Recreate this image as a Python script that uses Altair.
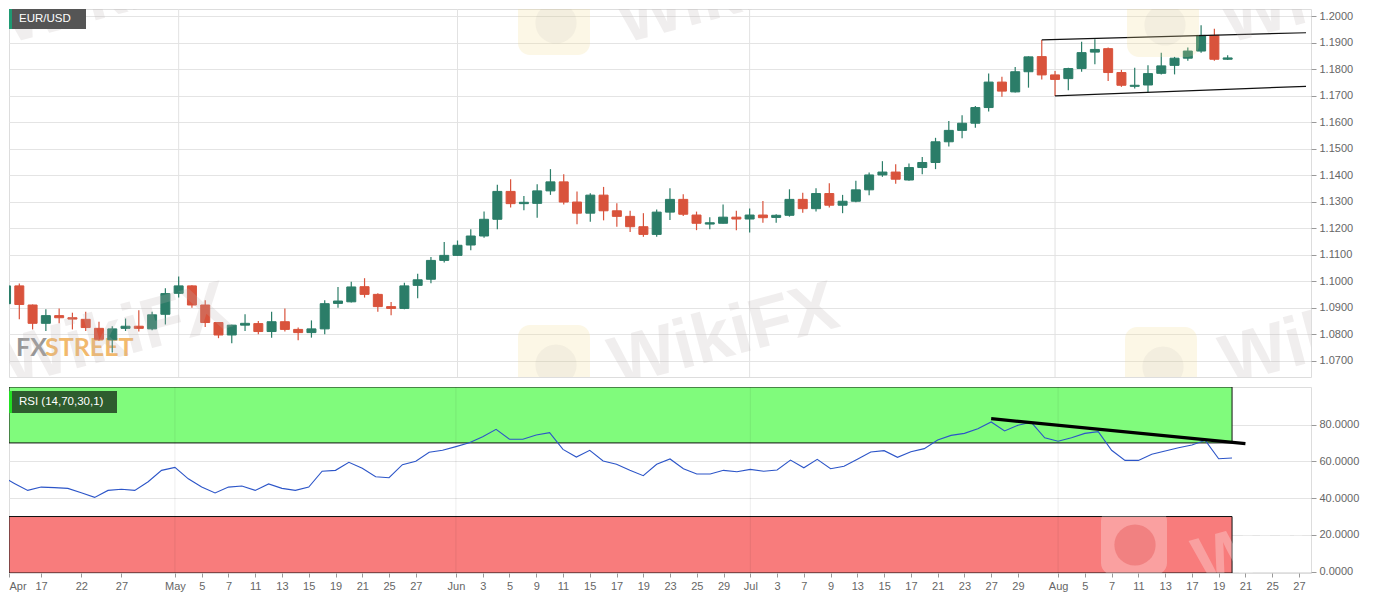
import json
import pandas as pd
import altair as alt

# trading days on the chart (Apr 14 sits just left of the visible window)
dates = pd.bdate_range("2020-04-14", "2020-08-20")
day_idx = list(range(-3, 90))

opens = [1.0916, 1.0983, 1.0911, 1.0842, 1.0871, 1.0863, 1.0857, 1.0823, 1.0780, 1.0823,
         1.0831, 1.0821, 1.0876, 1.0955, 1.0983, 1.0911, 1.0845, 1.0798, 1.0835, 1.0841,
         1.0811, 1.0848, 1.0819, 1.0807, 1.0821, 1.0917, 1.0923, 1.0980, 1.0951, 1.0905,
         1.0898, 1.0985, 1.1008, 1.1079, 1.1098, 1.1137, 1.1171, 1.1234, 1.1339, 1.1293,
         1.1294, 1.1341, 1.1375, 1.1299, 1.1257, 1.1325, 1.1266, 1.1245, 1.1206, 1.1177,
         1.1261, 1.1309, 1.1250, 1.1216, 1.1219, 1.1242, 1.1235, 1.1250, 1.1241, 1.1249,
         1.1309, 1.1274, 1.1331, 1.1287, 1.1302, 1.1345, 1.1401, 1.1412, 1.1382, 1.1429,
         1.1448, 1.1526, 1.1569, 1.1596, 1.1655, 1.1751, 1.1714, 1.1790, 1.1847, 1.1778,
         1.1764, 1.1802, 1.1864, 1.1877, 1.1787, 1.1735, 1.1740, 1.1784, 1.1814, 1.1841,
         1.1868, 1.1927, 1.1837]
highs = [1.0989, 1.0992, 1.0913, 1.0895, 1.0898, 1.0882, 1.0886, 1.0848, 1.0831, 1.0860,
         1.0891, 1.0886, 1.0974, 1.1018, 1.0985, 1.0929, 1.0847, 1.0837, 1.0876, 1.0851,
         1.0886, 1.0898, 1.0826, 1.0853, 1.0929, 1.0979, 1.0999, 1.1012, 1.0955, 1.0922,
         1.0995, 1.1029, 1.1092, 1.1148, 1.1154, 1.1196, 1.1263, 1.1364, 1.1385, 1.1322,
         1.1366, 1.1423, 1.1404, 1.1339, 1.1332, 1.1356, 1.1294, 1.1266, 1.1257, 1.1271,
         1.1351, 1.1328, 1.1263, 1.1242, 1.1290, 1.1266, 1.1275, 1.1303, 1.1253, 1.1347,
         1.1334, 1.1351, 1.1370, 1.1326, 1.1379, 1.1410, 1.1453, 1.1441, 1.1444, 1.1469,
         1.1541, 1.1604, 1.1626, 1.1661, 1.1783, 1.1771, 1.1808, 1.1848, 1.1910, 1.1793,
         1.1805, 1.1903, 1.1912, 1.1881, 1.1797, 1.1805, 1.1814, 1.1862, 1.1846, 1.1881,
         1.1965, 1.1952, 1.1852]
lows = [1.0911, 1.0857, 1.0819, 1.0813, 1.0842, 1.0819, 1.0813, 1.0776, 1.0732, 1.0813,
        1.0811, 1.0816, 1.0838, 1.0939, 1.0901, 1.0828, 1.0786, 1.0767, 1.0813, 1.0801,
        1.0788, 1.0811, 1.0778, 1.0788, 1.0801, 1.0901, 1.0920, 1.0939, 1.0886, 1.0872,
        1.0895, 1.0936, 1.0993, 1.1071, 1.1096, 1.1117, 1.1164, 1.1196, 1.1278, 1.1268,
        1.1240, 1.1326, 1.1290, 1.1215, 1.1225, 1.1230, 1.1206, 1.1186, 1.1168, 1.1168,
        1.1231, 1.1246, 1.1193, 1.1196, 1.1218, 1.1193, 1.1184, 1.1221, 1.1221, 1.1244,
        1.1259, 1.1263, 1.1278, 1.1257, 1.1298, 1.1325, 1.1394, 1.1368, 1.1379, 1.1404,
        1.1423, 1.1508, 1.1539, 1.1579, 1.1640, 1.1696, 1.1712, 1.1730, 1.1761, 1.1699,
        1.1720, 1.1790, 1.1818, 1.1755, 1.1733, 1.1727, 1.1714, 1.1780, 1.1780, 1.1831,
        1.1862, 1.1831, 1.1834]
closes = [1.0983, 1.0913, 1.0842, 1.0871, 1.0863, 1.0858, 1.0826, 1.0782, 1.0821, 1.0831,
          1.0823, 1.0874, 1.0954, 1.0983, 1.0911, 1.0845, 1.0798, 1.0835, 1.0842, 1.0811,
          1.0848, 1.0819, 1.0807, 1.0821, 1.0916, 1.0926, 1.0979, 1.0951, 1.0905, 1.0898,
          1.0983, 1.1006, 1.1079, 1.1098, 1.1136, 1.1171, 1.1234, 1.1339, 1.1293, 1.1298,
          1.1341, 1.1375, 1.1299, 1.1257, 1.1325, 1.1266, 1.1245, 1.1206, 1.1177, 1.1261,
          1.1309, 1.1253, 1.1219, 1.1221, 1.1242, 1.1235, 1.1250, 1.1240, 1.1249, 1.1309,
          1.1274, 1.1331, 1.1287, 1.1302, 1.1345, 1.1401, 1.1412, 1.1385, 1.1429, 1.1448,
          1.1526, 1.1569, 1.1596, 1.1655, 1.1751, 1.1717, 1.1790, 1.1846, 1.1778, 1.1761,
          1.1802, 1.1862, 1.1874, 1.1787, 1.1739, 1.1739, 1.1783, 1.1812, 1.1841, 1.1868,
          1.1927, 1.1837, 1.1842]
rsi = [52.0, 48.0, 44.2, 46.0, 45.7, 45.3, 42.9, 40.4, 44.2, 44.8,
       44.2, 48.9, 55.1, 56.7, 50.5, 46.0, 42.8, 46.0, 46.6, 44.2,
       47.7, 45.3, 44.2, 46.0, 54.6, 55.1, 59.5, 56.2, 51.6, 51.1,
       58.2, 60.0, 64.9, 66.0, 68.0, 70.1, 73.4, 77.4, 72.0, 72.0,
       74.3, 75.6, 66.5, 62.3, 66.0, 60.2, 58.4, 55.1, 52.2, 58.4,
       61.3, 56.0, 53.1, 53.1, 55.1, 54.3, 55.6, 54.6, 55.3, 60.7,
       56.5, 61.1, 56.0, 57.3, 61.1, 65.1, 65.8, 62.2, 65.2, 66.9,
       71.6, 74.1, 75.2, 77.7, 81.4, 76.5, 79.6, 81.2, 72.8, 70.9,
       72.8, 75.2, 76.1, 66.0, 60.5, 60.5, 63.8, 65.6, 67.4, 68.9,
       71.4, 61.4, 61.8]

tick_pos = [-2.4, 0, 3, 6, 10, 12, 14, 16, 18, 20, 22, 24, 26, 28,
            31, 33, 35, 37, 39, 41, 43, 45, 47, 49, 51,
            53, 55, 57, 59, 61, 63, 65, 67, 69, 71, 73,
            76, 78, 80, 82, 84, 86, 88, 90, 92, 94]
tick_text = ['Apr', '17', '22', '27', 'May', '5', '7', '11', '13', '15', '19', '21', '25', '27',
             'Jun', '3', '5', '9', '11', '15', '17', '19', '23', '25', '29',
             'Jul', '3', '7', '9', '13', '15', '17', '21', '23', '27', '29',
             'Aug', '5', '7', '11', '13', '17', '19', '21', '25', '27']
month_starts = [10, 31, 53, 76]
price_ticks = [1.07, 1.08, 1.09, 1.10, 1.11, 1.12, 1.13, 1.14, 1.15, 1.16, 1.17, 1.18, 1.19, 1.20]
rsi_ticks = [0, 20, 40, 60, 80]

# channel drawn on the price panel
channel_name = ['upper', 'upper', 'lower', 'lower']
channel_x = [75, 94.9, 76, 94.9]
channel_y = [1.1910, 1.1937, 1.1699, 1.1735]

# descending RSI trend line
trend_x = [71, 90]
trend_y = [83.2, 69.6]

# RSI zones
zone_name = ['over', 'under']
zone_x1 = [-2.4, -2.4]
zone_x2 = [89, 89]
zone_lo = [70, -0.7]
zone_hi = [100.4, 30]

UP, DOWN = '#2b7d68', '#d9533c'
FONT = 'Liberation Sans'
W, H_PRICE, H_RSI = 1302, 368, 186
X_DOM = [-2.4, 94.9]

df = pd.DataFrame({
    'i': day_idx,
    'date': dates.strftime('%Y-%m-%d'),
    'Open': opens, 'High': highs, 'Low': lows, 'Close': closes,
    'RSI': rsi,
})
df['dir'] = ['up' if c >= o else 'down' for o, c in zip(opens, closes)]

months = pd.DataFrame({'i': month_starts})
channel = pd.DataFrame({'line': channel_name, 'x': channel_x, 'y': channel_y})
trend = pd.DataFrame({'x': trend_x, 'v': trend_y})
zones = pd.DataFrame({'zone': zone_name, 'x1': zone_x1, 'x2': zone_x2, 'lo': zone_lo, 'hi': zone_hi})
one = pd.DataFrame({'k': [0]})

xscale = alt.Scale(domain=X_DOM, nice=False, zero=False)
pscale = alt.Scale(domain=[1.06397, 1.20264], nice=False, zero=False)
rscale = alt.Scale(domain=[-0.7, 100.4], nice=False, zero=False)
dir_scale = alt.Scale(domain=['up', 'down'], range=[UP, DOWN])

p_axis = alt.Axis(orient='right', values=price_ticks, format='.4f', title=None,
                  grid=True, gridColor='#e4e4e4', domain=False, tickSize=5, tickColor='#999',
                  labelColor='#666', labelFont=FONT, labelFontSize=11, labelPadding=3)
r_axis = alt.Axis(orient='right', values=rsi_ticks, format='.4f', title=None,
                  grid=True, gridColor='#e4e4e4', domain=False, tickSize=5, tickColor='#999',
                  labelColor='#666', labelFont=FONT, labelFontSize=11, labelPadding=3)
label_expr = f"{json.dumps(tick_text)}[indexof({json.dumps(tick_pos)}, datum.value)]"
x_axis = alt.Axis(values=tick_pos, labelExpr=label_expr, title=None, grid=False, domain=False,
                  tickSize=4, tickColor='#999', labelColor='#666', labelFont=FONT,
                  labelFontSize=11, labelPadding=3, labelFlush=5, labelOverlap=False)


def px(field):
    return alt.X(field, scale=xscale, axis=None)


def rx(field):
    return alt.X(field, scale=xscale, axis=x_axis)


def wm_text(x, y, color, opacity):
    return alt.Chart(one).mark_text(
        text='WikiFX', font=FONT, fontSize=70, fontWeight='bold', angle=345,
        color=color, opacity=opacity, clip=True, align='center', baseline='middle'
    ).encode(x=alt.value(x), y=alt.value(y))


def wm_logo(cx, cy, fill, opacity, size=72):
    h = size / 2
    return alt.Chart(one).mark_rect(cornerRadius=12, fill=fill, opacity=opacity, clip=True).encode(
        x=alt.value(cx - h), x2=alt.value(cx + h), y=alt.value(cy - h), y2=alt.value(cy + h))


def wm_circle(cx, cy, color, opacity):
    return alt.Chart(one).mark_point(shape='circle', filled=True, size=1700, color=color,
                                     opacity=opacity, clip=True).encode(
        x=alt.value(cx), y=alt.value(cy))


# ---------- price panel ----------
month_rules = alt.Chart(months).mark_rule(color='#e2e2e2', strokeWidth=1).encode(x=px('i:Q'))

fx_logo = (
    alt.Chart(one).mark_text(text='FX', font='Lato', fontSize=25, fontWeight='bold',
                             color='#8c8c8c', align='left', baseline='alphabetic', opacity=0.9)
    .encode(x=alt.value(7), y=alt.value(347))
    + alt.Chart(one).mark_text(text='STREET', font='Lato', fontSize=25, fontWeight='bold',
                               color='#f0a848', align='left', baseline='alphabetic', opacity=0.8)
    .encode(x=alt.value(36), y=alt.value(347))
)

wicks = alt.Chart(df).mark_rule(strokeWidth=1.2, clip=True).encode(
    x=px('i:Q'),
    y=alt.Y('Low:Q', scale=pscale, axis=p_axis),
    y2='High:Q',
    color=alt.Color('dir:N', scale=dir_scale, legend=None),
)
bodies = alt.Chart(df).mark_bar(width=9, strokeWidth=1, clip=True).encode(
    x=px('i:Q'),
    y=alt.Y('Open:Q', scale=pscale, axis=p_axis),
    y2='Close:Q',
    fill=alt.Fill('dir:N', scale=dir_scale, legend=None),
    stroke=alt.Stroke('dir:N', scale=dir_scale, legend=None),
)
channel_lines = alt.Chart(channel).mark_line(color='#111', strokeWidth=1.2, clip=True).encode(
    x=px('x:Q'),
    y=alt.Y('y:Q', scale=pscale, axis=p_axis),
    detail='line:N',
)

price_wm = []
for cx, cy in [(545, 352), (1152, 354), (545, 10), (1154, 12)]:
    price_wm.append(wm_logo(cx, cy, '#f2dc8c', 0.22))
    price_wm.append(wm_circle(cx + 2, cy + 4, '#8a8a8a', 0.08))
for x, y in [(715, 327), (1326, 325), (722, -16), (1326, -16), (107, 327), (107, -16)]:
    price_wm.append(wm_text(x, y, '#bdb3b3', 0.22))

eur_box = (
    alt.Chart(one).mark_rect(color='#555555').encode(
        x=alt.value(0), x2=alt.value(77), y=alt.value(0), y2=alt.value(20))
    + alt.Chart(one).mark_rect(color='#1f9a73').encode(
        x=alt.value(0), x2=alt.value(3), y=alt.value(0), y2=alt.value(20))
    + alt.Chart(one).mark_text(text='EUR/USD', font=FONT, fontSize=11.5, color='white',
                               align='left', baseline='middle').encode(
        x=alt.value(10), y=alt.value(10))
)

price = alt.layer(
    month_rules, fx_logo, wicks, bodies, channel_lines, *price_wm, eur_box
).properties(width=W, height=H_PRICE)

# ---------- RSI panel ----------
zone_rects = alt.Chart(zones).mark_rect(stroke='#111', strokeWidth=1, clip=True).encode(
    x=rx('x1:Q'), x2='x2:Q',
    y=alt.Y('lo:Q', scale=rscale, axis=r_axis), y2='hi:Q',
    fill=alt.Fill('zone:N', scale=alt.Scale(domain=['over', 'under'], range=['#80fb7c', '#f87c7c']),
                  legend=None),
)
rsi_months = alt.Chart(months).mark_rule(color='#000', opacity=0.07, strokeWidth=1).encode(x=rx('i:Q'))
rsi_line = alt.Chart(df).mark_line(color='#2c55c8', strokeWidth=1.1, clip=True).encode(
    x=rx('i:Q'),
    y=alt.Y('RSI:Q', scale=rscale, axis=r_axis),
)
trend_line = alt.Chart(trend).mark_line(color='#000', strokeWidth=3.2, clip=True).encode(
    x=rx('x:Q'),
    y=alt.Y('v:Q', scale=rscale, axis=r_axis),
)
rsi_wm = [
    wm_logo(1125, 155, '#ffffff', 0.28, size=66),
    wm_circle(1126, 158, '#e04848', 0.35),
    wm_text(1299, 150, '#ffffff', 0.28),
]
rsi_box = (
    alt.Chart(one).mark_rect(color='#2e5c2e').encode(
        x=alt.value(0), x2=alt.value(108), y=alt.value(4), y2=alt.value(26))
    + alt.Chart(one).mark_rect(color='#22e022').encode(
        x=alt.value(0), x2=alt.value(3), y=alt.value(4), y2=alt.value(26))
    + alt.Chart(one).mark_text(text='RSI (14,70,30,1)', font=FONT, fontSize=11.5, color='white',
                               align='left', baseline='middle').encode(
        x=alt.value(10), y=alt.value(15))
)

rsi_panel = alt.layer(
    zone_rects, rsi_months, rsi_line, trend_line, *rsi_wm, rsi_box
).properties(width=W, height=H_RSI)

chart = (
    alt.vconcat(price, rsi_panel, spacing=8)
    .resolve_scale(x='independent', y='independent', fill='independent',
                   stroke='independent', color='independent')
    .properties(padding=0)
    .configure_view(fill='#f7f7f7', stroke='#d6d6d6', strokeWidth=1)
    .configure(background='white', font=FONT)
)

chart.save("out.html", embed_options={"renderer": "svg", "actions": False})
